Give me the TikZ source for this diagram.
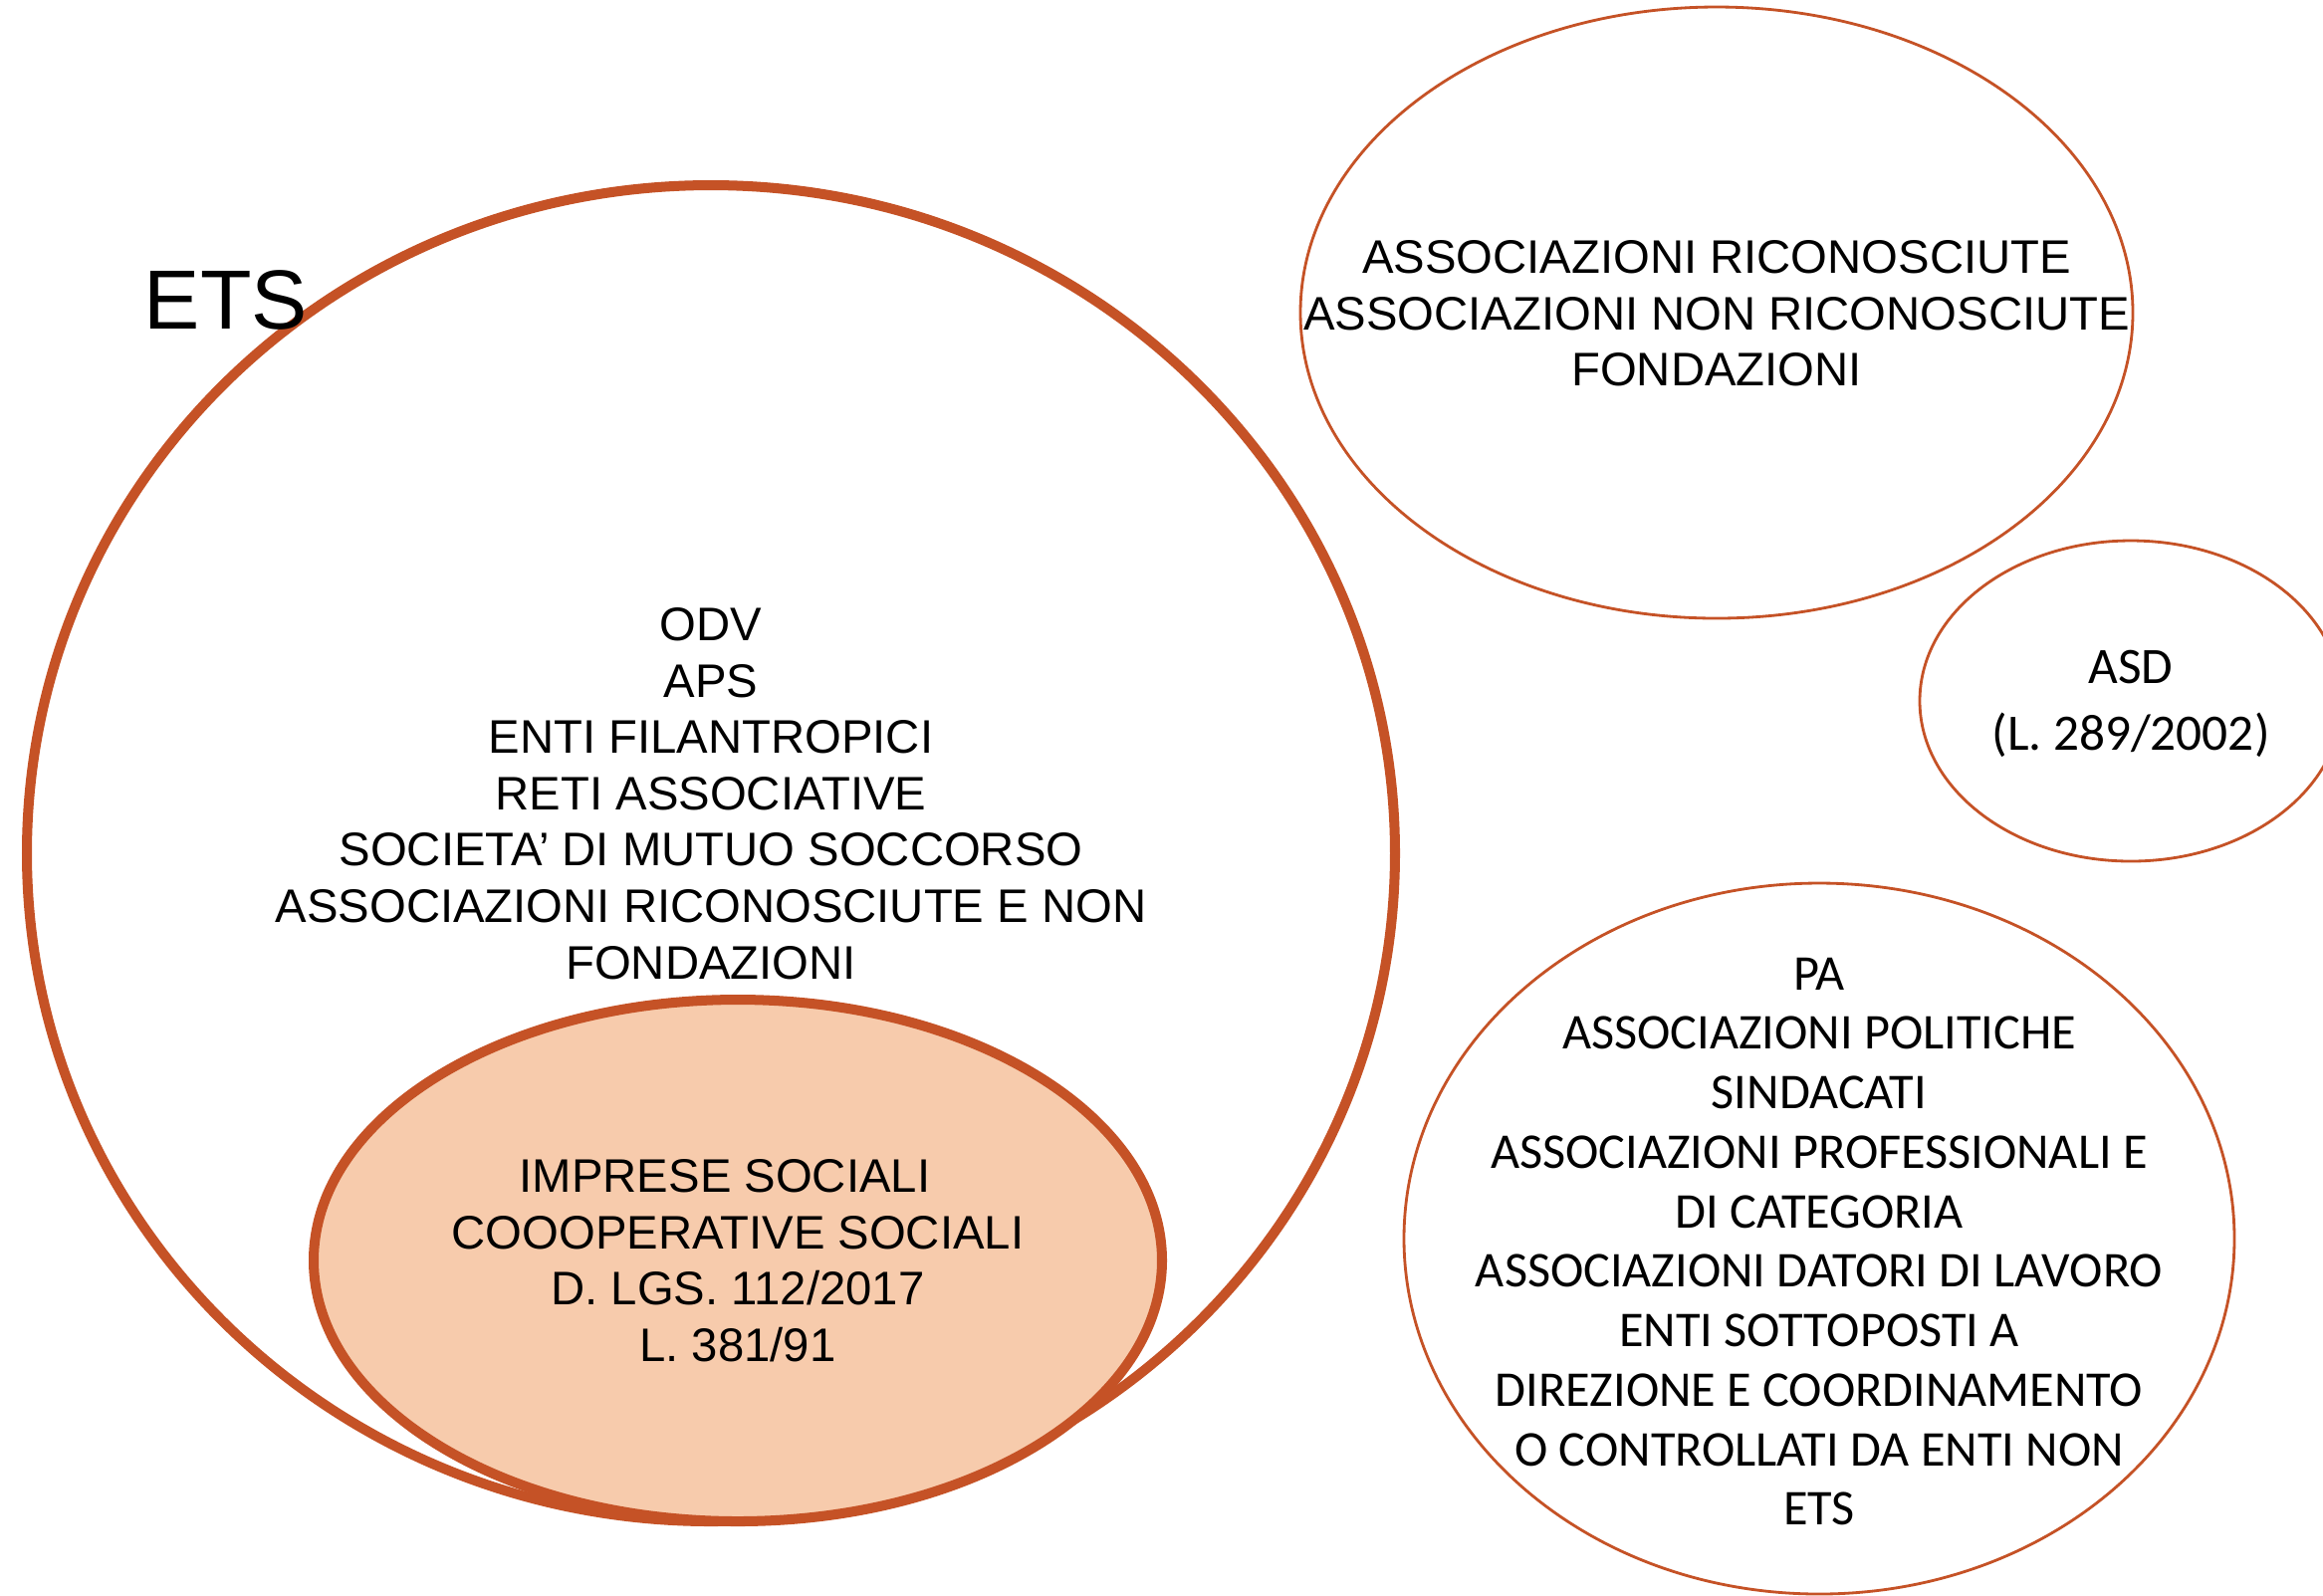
\documentclass[tikz,border=0pt]{standalone}
\usepackage{fontspec}
\setmainfont{Liberation Sans}
\newfontfamily\calibrifont{Carlito}
\usepackage{xcolor}
\usetikzlibrary{shapes.geometric}
\definecolor{etsred}{HTML}{C55226}
\definecolor{etsfill}{HTML}{F7CBAC}
\tikzset{
  bubble/.style={ellipse, draw=etsred, line width=#1, inner sep=0pt},
  bubble/.default={0.8pt},
  txt/.style={align=center, font=\fontsize{13.45pt}{16.1pt}\selectfont, inner sep=0pt},
  ctxt/.style={align=center, font=\calibrifont\fontsize{14.3pt}{17pt}\selectfont, inner sep=0pt},
}

\begin{document}
\begin{tikzpicture}[x=0.1mm, y=-0.1mm]
\useasboundingbox (0,0) rectangle (2333,1602);
\clip (0,0) rectangle (2333,1602);
% the ETS set and the social enterprises inside it
\node[bubble=2.85pt, minimum width=137.4mm, minimum height=134.2mm] (ets) at (714,857) {};
\node[bubble=2.85pt, fill=etsfill, minimum width=85.2mm, minimum height=52.4mm] (imprese) at (741,1266) {};
% the other bodies
\node[bubble, minimum width=83.6mm, minimum height=61.4mm] (assoc) at (1724,314) {};
\node[bubble, minimum width=42.4mm, minimum height=32.2mm] (asd) at (2140,704) {};
\node[bubble, minimum width=83.4mm, minimum height=71.4mm] (nonets) at (1827,1244) {};
% texts
\node[font=\fontsize{24pt}{28pt}\selectfont, inner sep=0pt] (etslabel) at (227,301) {ETS};
\node[txt] (etstext) at (714,797) {ODV\\APS\\ENTI FILANTROPICI\\RETI ASSOCIATIVE\\SOCIETA’ DI MUTUO SOCCORSO\\ASSOCIAZIONI RICONOSCIUTE E NON\\FONDAZIONI};
\node[txt] (impresetext) at (741,1266) {IMPRESE SOCIALI\rule{0.55em}{0pt}\\COOOPERATIVE SOCIALI\\D. LGS. 112/2017\\L. 381/91};
\node[txt] (assoctext) at (1724,315) {ASSOCIAZIONI RICONOSCIUTE\\ASSOCIAZIONI NON RICONOSCIUTE\\FONDAZIONI};
\node[ctxt, font=\calibrifont\fontsize{14.6pt}{19pt}\selectfont] (asdtext) at (2140,707) {ASD\\(L. 289/2002)};
\node[ctxt] (nonetstext) at (1827,1247) {PA\\ASSOCIAZIONI POLITICHE\\SINDACATI\\ASSOCIAZIONI PROFESSIONALI E\\DI CATEGORIA\\ASSOCIAZIONI DATORI DI LAVORO\\ENTI SOTTOPOSTI A\\DIREZIONE E COORDINAMENTO\\O CONTROLLATI DA ENTI NON\\ETS};
\end{tikzpicture}
\end{document}
